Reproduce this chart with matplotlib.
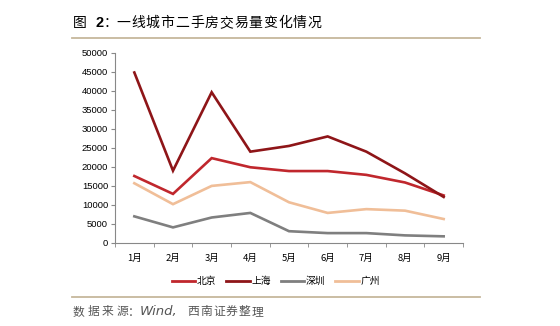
import matplotlib
matplotlib.use("Agg")
import matplotlib.pyplot as plt
from matplotlib.lines import Line2D

plt.rcParams["font.family"] = ["Liberation Sans", "Noto Sans CJK SC"]

# Data
months = ["1月", "2月", "3月", "4月", "5月", "6月", "7月", "8月", "9月"]
beijing = [17600, 12900, 22300, 19900, 18900, 18900, 17900, 15900, 12500]
shanghai = [44800, 19000, 39600, 24000, 25500, 28000, 24000, 18300, 12100]
shenzhen = [7000, 4100, 6700, 7900, 3100, 2600, 2600, 2000, 1750]
guangzhou = [15700, 10200, 15000, 16000, 10700, 7900, 8900, 8500, 6300]
yticks = list(range(0, 50001, 5000))

series = [
    ("北京", beijing, "#C0272D"),
    ("上海", shanghai, "#8E1518"),
    ("深圳", shenzhen, "#7F7F7F"),
    ("广州", guangzhou, "#F0BE98"),
]

W, H = 560, 326
cjk = ["Noto Sans CJK SC"]
fig = plt.figure(figsize=(W / 100, H / 100), dpi=100)
ax = fig.add_axes([115 / W, 1 - 243 / H, (463 - 115) / W, (243 - 52.7) / H])

x = list(range(len(months)))
for name, vals, color in series:
    ax.plot(x, vals, color=color, lw=1.9, solid_joinstyle="miter", label=name)

ax.set_xlim(-0.5, len(months) - 0.5)
ax.set_ylim(0, 50000)
ax.set_yticks(yticks)
ax.set_yticklabels([str(v) for v in yticks], fontsize=6.8)
ax.set_xticks(x)
ax.set_xticklabels(months, fontsize=6.8, family=cjk)
ax.set_xticks([i - 0.5 for i in range(len(months) + 1)], minor=True)
ax.tick_params(axis="x", which="major", length=0, pad=8)
ax.tick_params(axis="x", which="minor", length=3, color="#888888")
ax.tick_params(axis="y", length=3, color="#888888", pad=2)
for side in ["top", "right"]:
    ax.spines[side].set_visible(False)
for side in ["left", "bottom"]:
    ax.spines[side].set_color("#888888")
    ax.spines[side].set_linewidth(0.8)

handles = [Line2D([], [], color=c, lw=2) for _, _, c in series]
fig.legend(handles, [s[0] for s in series], loc="center",
           bbox_to_anchor=(276 / W, 1 - 281 / H), ncol=4, frameon=False,
           handlelength=2.4, handletextpad=0.2, columnspacing=1.0,
           prop={"family": cjk, "size": 7})

# header and footer rules
fig.add_artist(Line2D([72 / W, 480 / W], [1 - 37.5 / H] * 2, color="#C6B89C", lw=1.3))
fig.add_artist(Line2D([72 / W, 480 / W], [1 - 297 / H] * 2, color="#C6B89C", lw=1.3))

# title, characters spaced out like the original
ty = 1 - 23 / H
fig.text(73 / W, ty, "图", fontsize=10, va="center", family=cjk)
fig.text(96 / W, ty, "2", fontsize=10.5, va="center", weight="bold",
         family=["Liberation Sans"])
fig.text(104 / W, ty, "：", fontsize=10, va="center", family=cjk)
for i, ch in enumerate("一线城市二手房交易量变化情况"):
    fig.text((116.5 + i * 14.7) / W, ty, ch, fontsize=10, va="center", family=cjk)

# source note
sy = 1 - 312 / H
for i, ch in enumerate("数据来源"):
    fig.text((72.5 + i * 14.8) / W, sy, ch, fontsize=8.5, va="center",
             color="#555555", family=cjk)
fig.text(128 / W, sy, "：", fontsize=8.5, va="center", color="#555555",
         family=cjk)
fig.text(140 / W, sy, "Wind,", fontsize=9.5, va="center", style="italic",
         color="#555555", family=["DejaVu Sans"])
for i, ch in enumerate("西南证券整理"):
    fig.text((187 + i * 13) / W, sy, ch, fontsize=8.5, va="center",
             color="#555555", family=cjk)

fig.savefig("out.png", dpi=100, facecolor="white")
